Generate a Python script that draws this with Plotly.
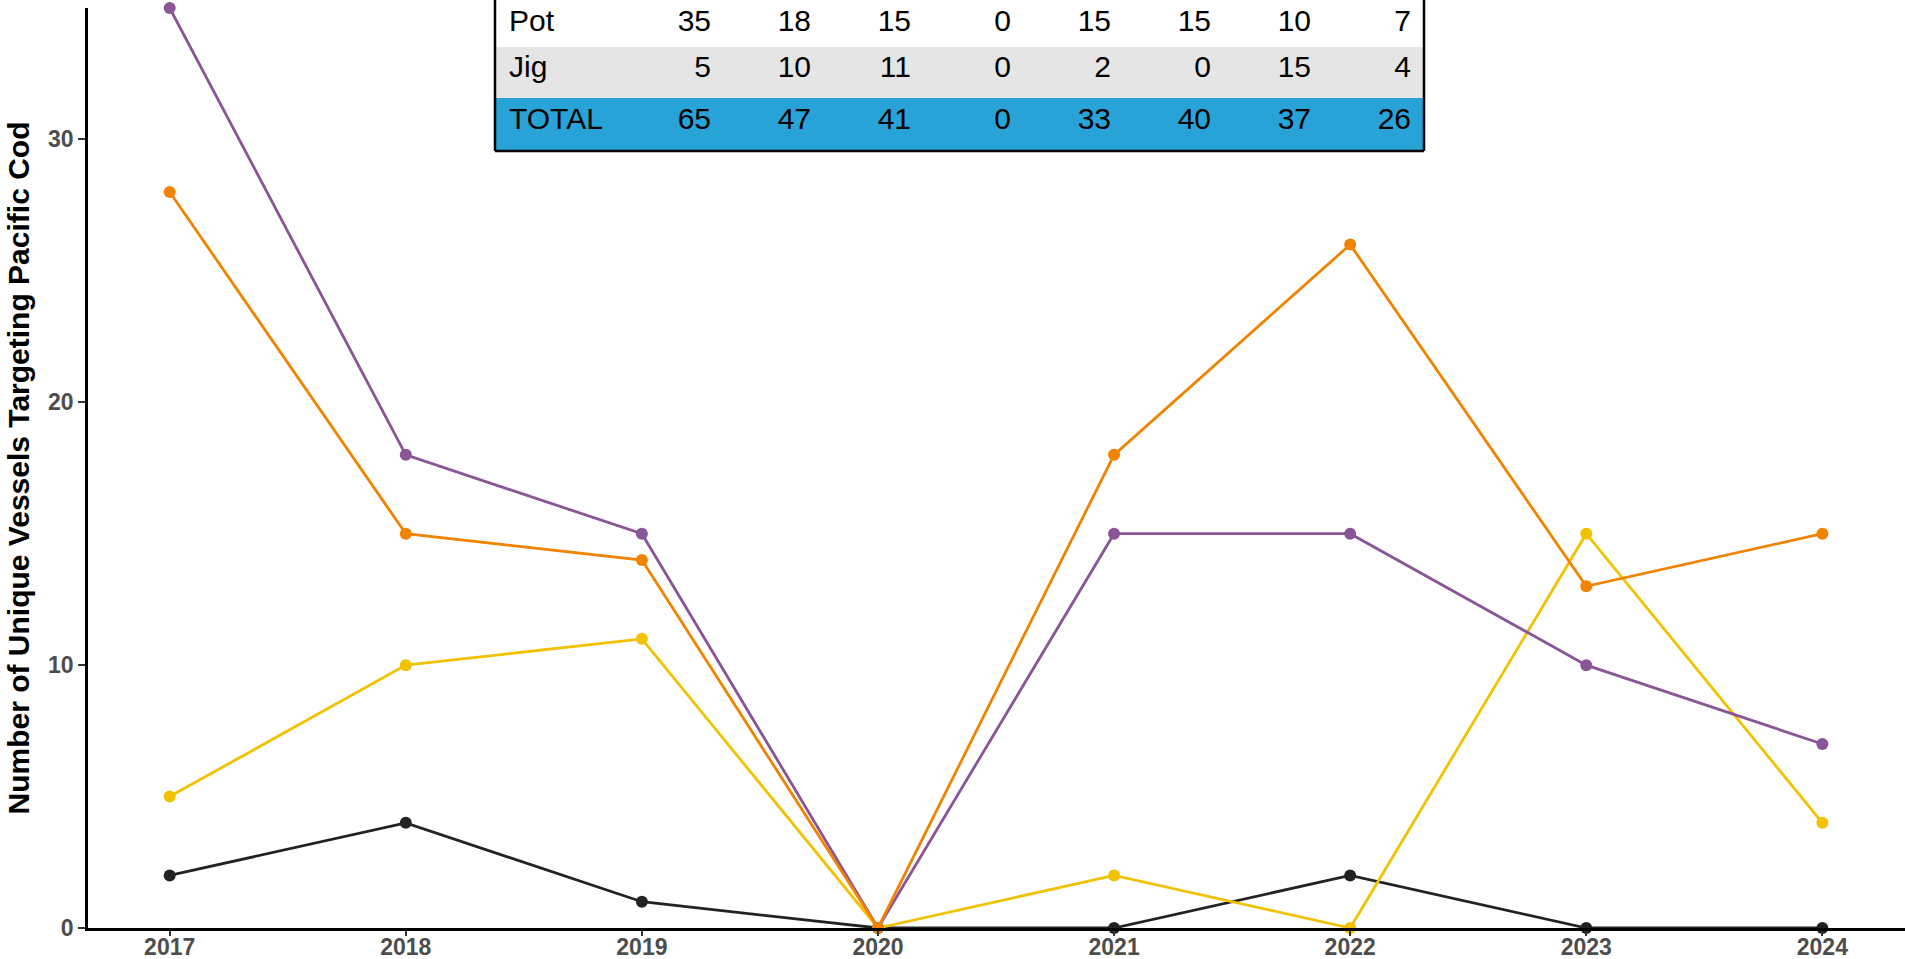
import plotly.graph_objects as go

years = [2017, 2018, 2019, 2020, 2021, 2022, 2023, 2024]
series_names = ["Trawl", "Jig", "Pot", "Hook-and-Line"]
trawl = [2, 4, 1, 0, 0, 2, 0, 0]
jig = [5, 10, 11, 0, 2, 0, 15, 4]
pot = [35, 18, 15, 0, 15, 15, 10, 7]
hook_line = [28, 15, 14, 0, 18, 26, 13, 15]
series_values = [trawl, jig, pot, hook_line]
series_colors = ["#222222", "#F2C200", "#8A5597", "#F08300"]

table_rows = ["Pot", "Jig", "TOTAL"]
table_pot = [35, 18, 15, 0, 15, 15, 10, 7]
table_jig = [5, 10, 11, 0, 2, 0, 15, 4]
table_total = [65, 47, 41, 0, 33, 40, 37, 26]

FONT = "Liberation Sans, Arial, Helvetica, sans-serif"
W, H = 1905, 959
ML, MR, MT, MB = 88, 0, 0, 31
plot_w = W - ML - MR
plot_h = H - MT - MB

fig = go.Figure()
for name, vals, col in zip(series_names, series_values, series_colors):
    fig.add_trace(go.Scatter(
        x=years, y=vals, name=name, mode="lines+markers",
        line=dict(color=col, width=2.8),
        marker=dict(color=col, size=12),
        cliponaxis=False, showlegend=False,
    ))

def px_to_x(px):
    return (px - ML) / plot_w

def px_to_y(py):
    return (H - MB - py) / plot_h

tbl_left, tbl_right, tbl_bottom = 495, 1424, 151
header_vals = ["", table_rows[0]] + [str(v) for v in table_pot] + [""]
cell_cols = [["", ""], table_rows[1:]]
for j in range(len(years)):
    cell_cols.append([str(table_jig[j]), str(table_total[j])])
cell_cols.append(["", ""])
ncols = len(cell_cols)
row_fills = ["#E5E5E5", "#27A3D7"]

fig.add_trace(go.Table(
    domain=dict(x=[px_to_x(tbl_left), px_to_x(tbl_right)], y=[px_to_y(tbl_bottom + 4), 1]),
    columnwidth=[6, 118] + [100] * len(years) + [5],
    header=dict(
        values=header_vals,
        height=46,
        align=["left", "left"] + ["right"] * len(years) + ["right"],
        fill=dict(color="white"),
        line=dict(color="white", width=1),
        font=dict(family=FONT, size=30, color="black"),
    ),
    cells=dict(
        values=cell_cols,
        height=52,
        align=["left", "left"] + ["right"] * len(years) + ["right"],
        fill=dict(color=[row_fills] * ncols),
        line=dict(color=[row_fills] * ncols, width=1),
        font=dict(family=FONT, size=30, color="black"),
    ),
))

border = dict(type="line", xref="paper", yref="paper", line=dict(color="black", width=2.5))
fig.add_shape(**border, x0=px_to_x(tbl_left), x1=px_to_x(tbl_left), y0=px_to_y(tbl_bottom), y1=1.02)
fig.add_shape(**border, x0=px_to_x(tbl_right), x1=px_to_x(tbl_right), y0=px_to_y(tbl_bottom), y1=1.02)
fig.add_shape(**border, x0=px_to_x(tbl_left), x1=px_to_x(tbl_right), y0=px_to_y(tbl_bottom), y1=px_to_y(tbl_bottom))

fig.update_layout(
    width=W, height=H,
    margin=dict(l=ML, r=MR, t=MT, b=MB, pad=0),
    plot_bgcolor="white", paper_bgcolor="white",
    font=dict(family=FONT),
    xaxis=dict(
        range=[2016.654, 2024.35], tickmode="array", tickvals=years,
        ticktext=[str(y) for y in years], automargin=False,
        showgrid=False, zeroline=False,
        showline=True, linecolor="black", linewidth=2.5,
        ticks="outside", ticklen=5, tickwidth=1.5, tickcolor="#333333",
        ticklabelstandoff=-8,
        tickfont=dict(family=FONT, size=23, color="#4D4D4D", weight="bold"),
    ),
    yaxis=dict(
        range=[0, 35], domain=[0, (plot_h - 8) / plot_h], automargin=False,
        tickmode="array", tickvals=[0, 10, 20, 30],
        showgrid=False, zeroline=False,
        showline=True, linecolor="black", linewidth=2.5,
        ticks="outside", ticklen=7, tickwidth=1.5, tickcolor="#333333",
        tickfont=dict(family=FONT, size=23, color="#4D4D4D", weight="bold"),
        title=dict(text="Number of Unique Vessels Targeting Pacific Cod",
                   font=dict(family=FONT, size=30, color="black", weight="bold"),
                   standoff=10),
    ),
)

fig.write_html("out.html", config={"displayModeBar": False},
               post_script="document.body.style.margin='0px';")
